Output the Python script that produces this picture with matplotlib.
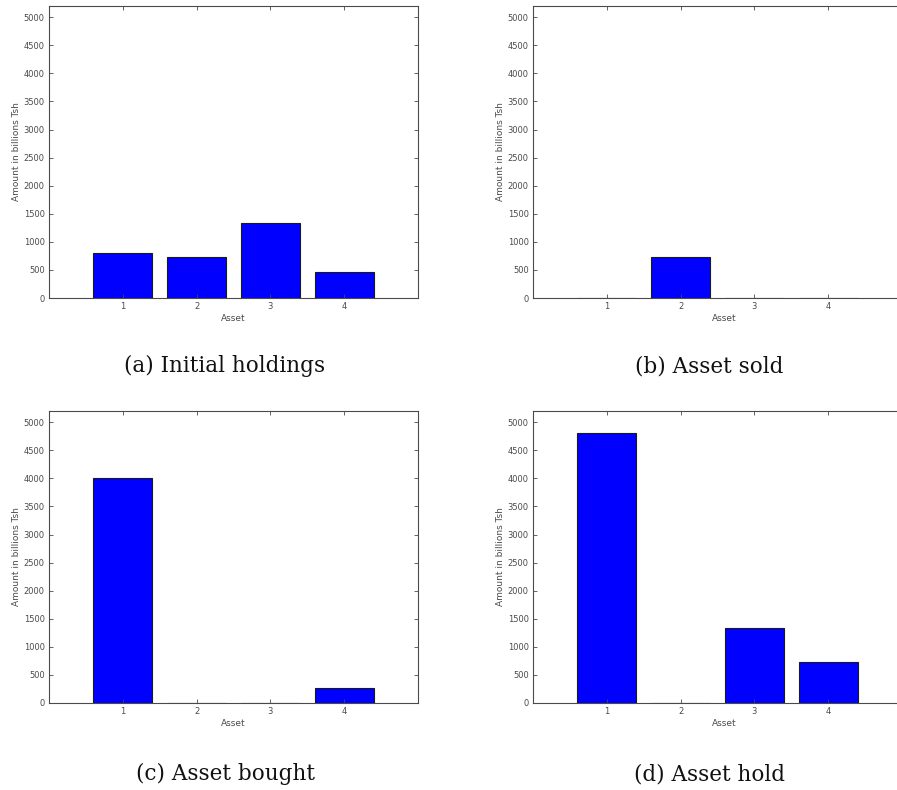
# -*- coding: utf-8 -*-
# asset_bars.py

import numpy as np
import matplotlib.pyplot as plt

assets = [1, 2, 3, 4]
initial_holdings = [806, 725, 1333, 470]
asset_sold = [0, 725, 0, 0]
asset_bought = [4000, 0, 0, 268]
asset_hold = [4806, 0, 1333, 738]

captions = ["(a) Initial holdings", "(b) Asset sold",
            "(c) Asset bought", "(d) Asset hold"]
series = [initial_holdings, asset_sold, asset_bought, asset_hold]

W, H = 897, 790
fig = plt.figure(figsize=(W / 100, H / 100), dpi=100)

# axes boxes in pixels: left, top, right, bottom (right panels run off the page)
boxes = [(49, 6, 418, 298), (533, 6, 915, 298),
         (49, 411, 418, 703), (533, 411, 915, 703)]
cap_x = [225, 709, 225, 709]
cap_base = [372, 372, 780, 780]
unit = 73.8  # pixels per asset step

grey = "#4a4a4a"
for i, ((l, t, r, b), vals, cap) in enumerate(zip(boxes, series, captions)):
    ax = fig.add_axes([l / W, 1 - b / H, (r - l) / W, (b - t) / H])
    ax.bar(assets, vals, width=0.8, color="#0000ff", edgecolor="#1a1a1a",
           linewidth=0.8)
    ax.set_xlim(0, (r - l) / unit)
    ax.set_ylim(0, 5200)
    ax.set_xticks(assets)
    ax.set_yticks(np.arange(0, 5001, 500))
    ax.tick_params(direction="in", top=True, right=True, length=3,
                   width=0.6, labelsize=6, colors=grey, pad=3)
    for s in ax.spines.values():
        s.set_linewidth(0.8)
        s.set_color(grey)
    ax.set_xlabel("Asset", fontsize=6.5, color=grey, labelpad=2)
    ax.set_ylabel("Amount in billions Tsh", fontsize=6.5, color=grey,
                  labelpad=2)
    fig.text(cap_x[i] / W, 1 - cap_base[i] / H, cap, ha="center",
             va="baseline", fontsize=15.5, family="DejaVu Serif",
             color="#111111")

fig.savefig("out.png", dpi=100)
